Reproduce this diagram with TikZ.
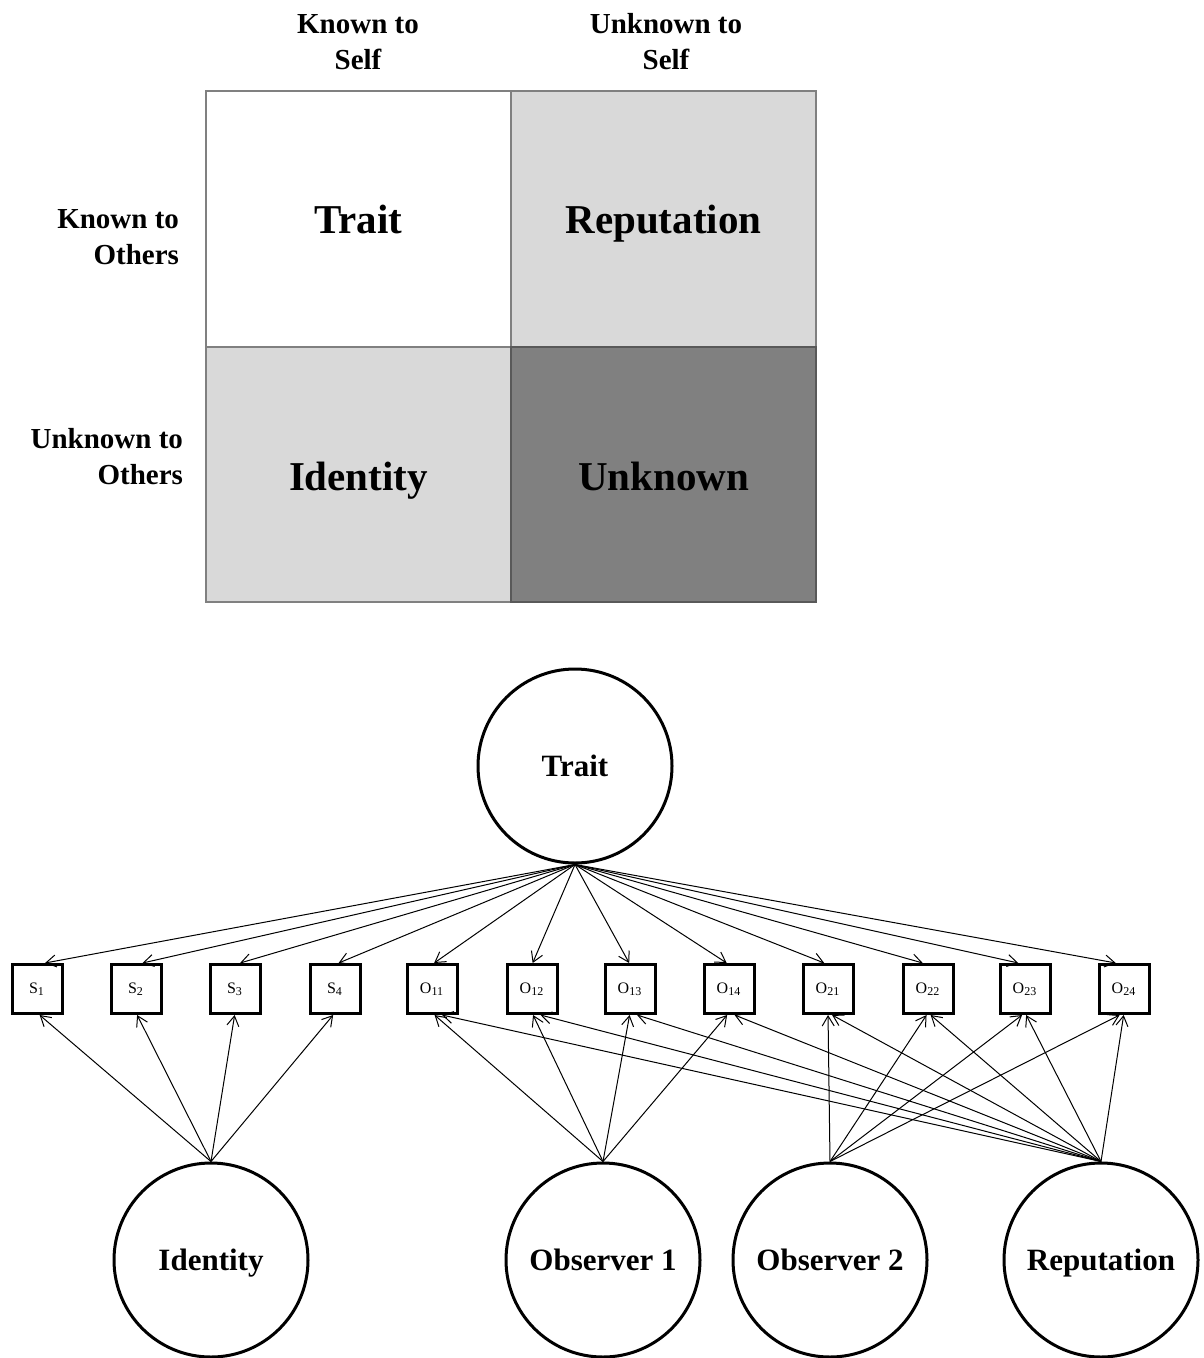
\documentclass[tikz,border=0pt]{standalone}
\usepackage{fontspec}
\setmainfont{Liberation Serif}
\usetikzlibrary{arrows.meta,calc}
\begin{document}
\begin{tikzpicture}[x=0.5pt,y=-0.5pt,
  cell/.style={draw=black!50,line width=1pt},
  celltext/.style={font=\fontsize{20.5}{24}\selectfont\bfseries,text height=13.9pt,text depth=0pt},
  head/.style={font=\fontsize{14.5}{18}\selectfont\bfseries},
  latent/.style={circle,draw,line width=1.5pt,minimum size=97pt,inner sep=0pt,font=\fontsize{15.5}{18}\selectfont\bfseries,text height=10.5pt,text depth=0pt},
  box/.style={draw,line width=1.5pt,minimum width=25pt,minimum height=24.5pt,inner sep=0pt,font=\fontsize{8}{9}\selectfont},
  arr/.style={line width=0.5pt,-{Straight Barb[length=5pt,width=6pt,line width=0.5pt]}}]
\useasboundingbox (0,0) rectangle (1203,1358);
% Johari-like grid
\path[cell,fill=white] (206,91) rectangle (511,347);
\path[cell,fill=black!15] (511,91) rectangle (816,347);
\path[cell,fill=black!15] (206,347) rectangle (511,602);
\path[cell,fill=black!50,draw=black!65] (511,347) rectangle (816,602);
\node[celltext] (gT) at (358.5,220) {Trait};
\node[celltext] (gR) at (663.5,220) {Reputation};
\node[celltext] (gI) at (358.5,477) {Identity};
\node[celltext] (gU) at (663.5,477) {Unknown};
\node[head,align=center] (hKS) at (358,42) {Known to\\Self};
\node[head,align=center] (hUS) at (666,42) {Unknown to\\Self};
\node[head,align=right,anchor=east] (hKO) at (186,237) {Known to\\Others};
\node[head,align=right,anchor=east] (hUO) at (190,457) {Unknown to\\Others};
% latent variables
\node[latent] (T) at (575,766) {Trait};
\node[latent] (I) at (211,1260) {Identity};
\node[latent] (O1) at (603,1260) {Observer 1};
\node[latent] (O2) at (830,1260) {Observer 2};
\node[latent] (R) at (1101,1260) {Reputation};
% indicators
\foreach \n/\x/\t in {s1/37/S\textsubscript{1},s2/136/S\textsubscript{2},s3/235/S\textsubscript{3},s4/335/S\textsubscript{4},
  o11/432/O\textsubscript{11},o12/532/O\textsubscript{12},o13/630/O\textsubscript{13},o14/729/O\textsubscript{14},
  o21/828/O\textsubscript{21},o22/928/O\textsubscript{22},o23/1025/O\textsubscript{23},o24/1124/O\textsubscript{24}}
  \node[box] (\n) at (\x,989) {\t};
\coordinate (tT) at (T.south);
\coordinate (iT) at (I.north);
\coordinate (p1T) at (O1.north);
\coordinate (p2T) at (O2.north);
\coordinate (rT) at (R.north);
\foreach \n in {s1,s2,s3,s4,o11,o12,o13,o14,o21,o22,o23,o24}
  \draw[arr] (tT) -- ($(\n.north)!0.015!(\n.north -| tT)$);
\foreach \n in {s1,s2,s3,s4}
  \draw[arr] (iT) -- ($(\n.south)!0.015!(\n.south -| iT)$);
\foreach \n in {o11,o12,o13,o14}
  \draw[arr] (p1T) -- ($(\n.south)!0.015!(\n.south -| p1T)$);
\foreach \n in {o21,o22,o23,o24}
  \draw[arr] (p2T) -- ($(\n.south)!0.015!(\n.south -| p2T)$);
\foreach \n in {o11,o12,o13,o14,o21,o22,o23,o24}
  \draw[arr] (rT) -- ($(\n.south)!0.015!(\n.south -| rT)$);
\end{tikzpicture}
\end{document}
